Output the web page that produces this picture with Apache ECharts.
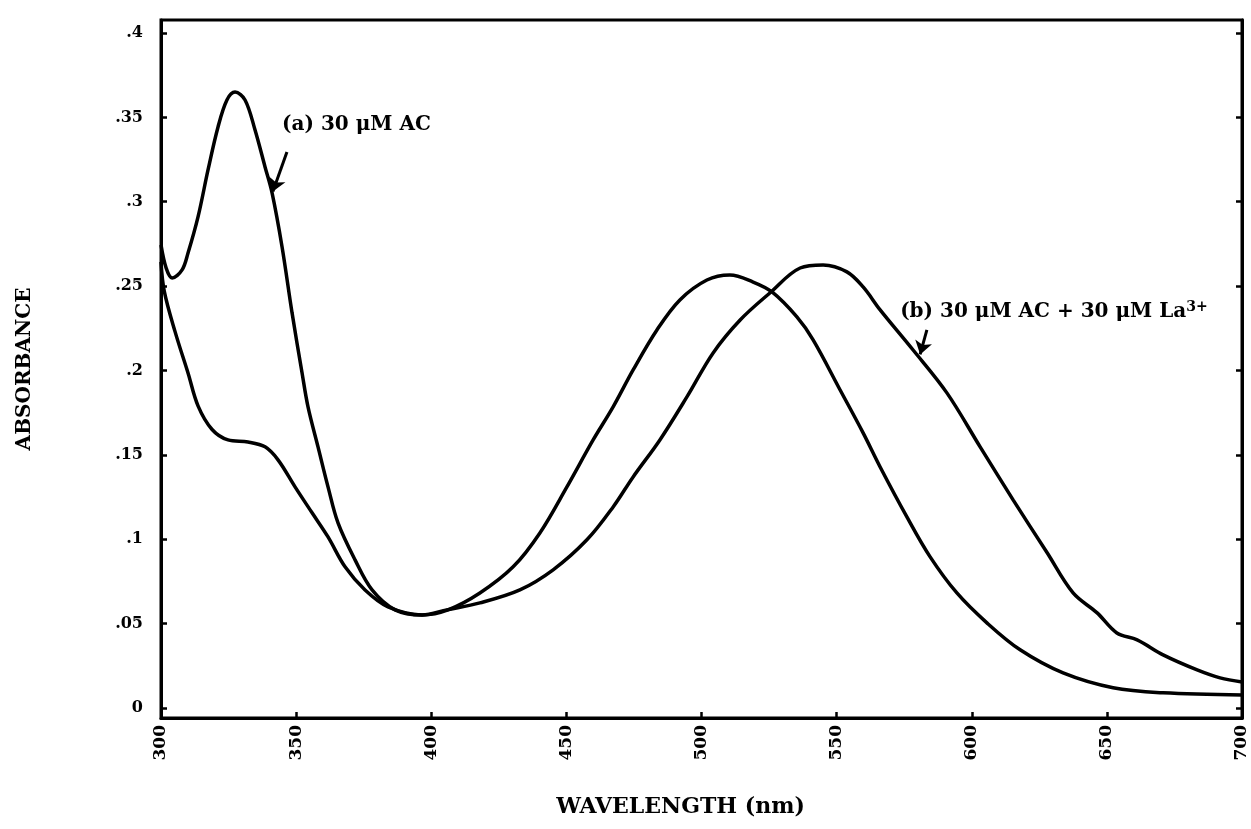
<!DOCTYPE html>
<html>
<head>
<meta charset="utf-8">
<title>Absorbance spectra</title>
<script src="https://cdn.jsdelivr.net/npm/echarts@6/dist/echarts.min.js"></script>
<style>
  html, body { margin: 0; padding: 0; background: #fff; }
  #chart { width: 1251px; height: 829px; }
</style>
</head>
<body>
<div id="chart"></div>
<script>
// Wavelength (nm) / absorbance pairs for each spectrum
const acWavelength = [300, 301.9, 304.1, 307.8, 310.0, 313.7, 317.4, 321.1, 324.4, 327.4, 331.1, 334.8, 338.5, 341.1, 344.8, 348.5, 352.2, 354.4, 358.1, 361.8, 365.5, 371.8, 378.1, 386.6, 396.6, 406.2, 418.0, 430.3, 440.2, 450.2, 459.9, 467.3, 474.7, 483.5, 492.0, 502.0, 510.5, 519.1, 526.1, 535.3, 541.3, 551.3, 559.8, 566.1, 576.0, 584.6, 594.5, 605.6, 617.9, 633.8, 652.3, 670.8, 700];
const acAbsorbance = [0.2744, 0.2607, 0.2548, 0.2596, 0.2696, 0.2910, 0.3188, 0.3443, 0.3603, 0.3650, 0.3603, 0.3425, 0.3206, 0.3052, 0.2732, 0.2341, 0.1985, 0.1784, 0.1547, 0.1310, 0.1096, 0.0877, 0.0699, 0.0581, 0.0551, 0.0581, 0.0681, 0.0836, 0.1037, 0.1310, 0.1588, 0.1784, 0.2003, 0.2240, 0.2418, 0.2536, 0.2566, 0.2524, 0.2465, 0.2317, 0.2181, 0.1884, 0.1630, 0.1428, 0.1132, 0.0895, 0.0681, 0.0504, 0.0344, 0.0207, 0.0119, 0.0089, 0.0077];

const laWavelength = [300, 301.2, 305.2, 310.0, 313.7, 318.9, 324.8, 332.2, 338.5, 343.3, 349.6, 355.9, 361.8, 368.1, 375.5, 384.0, 396.6, 405.8, 418.0, 432.8, 445.1, 457.6, 467.3, 474.7, 484.6, 494.6, 504.3, 514.3, 525.3, 536.5, 545.0, 553.8, 559.8, 566.1, 578.3, 590.8, 603.1, 615.3, 627.9, 637.5, 646.4, 653.7, 661.2, 670.8, 683.4, 691.9, 700];
const laAbsorbance = [0.2643, 0.2470, 0.2230, 0.1985, 0.1790, 0.1650, 0.1588, 0.1576, 0.1547, 0.1470, 0.1310, 0.1156, 0.1013, 0.0836, 0.0699, 0.0599, 0.0551, 0.0581, 0.0622, 0.0699, 0.0818, 0.0996, 0.1191, 0.1369, 0.1588, 0.1843, 0.2104, 0.2299, 0.2459, 0.2607, 0.2625, 0.2584, 0.2495, 0.2359, 0.2121, 0.1867, 0.1547, 0.1233, 0.0919, 0.0681, 0.0563, 0.0444, 0.0403, 0.0314, 0.0225, 0.0178, 0.0154];

// Tick values
const xTicks = [300, 350, 400, 450, 500, 550, 600, 650, 700];
const yTicks = [0, 0.05, 0.1, 0.15, 0.2, 0.25, 0.3, 0.35, 0.4];

// Curve labels and their pointer arrows (data coordinates)
const labelA = { text: '(a) 30 μM AC', at: [344.8, 0.3455] };
const arrowA = [[346.6, 0.3295], [341.4, 0.3060]];
const labelB = { text: '{t|(b) 30 μM AC + 30 μM La}{sup|3+}', at: [573.5, 0.2347] };
const arrowB = [[583.4, 0.2240], [580.9, 0.2095]];

const serif = 'DejaVu Serif';
const ink = '#000';

function pairs(xs, ys) {
  return xs.map((x, i) => [x, ys[i]]);
}

function yLabel(v) {
  if (v === 0) return '0';
  return String(v).replace(/^0\./, '.');
}

const chart = echarts.init(document.getElementById('chart'), null, { renderer: 'canvas' });

const lineStyle = { color: ink, width: 3.5 };
const textStyle = { color: ink, fontFamily: serif, fontWeight: 'bold', fontSize: 20 };

function arrowLine(seg) {
  return {
    silent: true,
    symbol: ['none', 'arrow'],
    symbolSize: 13,
    lineStyle: { color: ink, width: 3, type: 'solid' },
    label: { show: false },
    emphasis: { disabled: true },
    data: [[{ coord: seg[0] }, { coord: seg[1] }]]
  };
}

chart.setOption({
  backgroundColor: '#fff',
  animation: false,
  grid: {
    left: 161, right: 9, top: 20, bottom: 111,
    show: true, borderColor: ink, borderWidth: 3, backgroundColor: 'transparent'
  },
  xAxis: {
    type: 'value',
    min: 300, max: 700, interval: 50,
    name: 'WAVELENGTH (nm)',
    nameLocation: 'middle',
    nameGap: 78,
    nameTextStyle: { color: ink, fontFamily: serif, fontWeight: 'bold', fontSize: 22, padding: [0, 42, 0, 0] },
    axisLine: { show: true, onZero: false, lineStyle: { color: ink, width: 3 } },
    axisTick: { show: true, inside: true, length: 6, lineStyle: { color: ink, width: 2.5 }, customValues: xTicks },
    axisLabel: {
      customValues: xTicks,
      rotate: 90, margin: 7,
      color: ink, fontFamily: serif, fontWeight: 'bold', fontSize: 17
    },
    splitLine: { show: false }
  },
  yAxis: [{
    type: 'value',
    min: -0.006, max: 0.4077,
    name: 'ABSORBANCE',
    nameLocation: 'middle',
    nameGap: 126,
    nameRotate: 90,
    nameTextStyle: { color: ink, fontFamily: serif, fontWeight: 'bold', fontSize: 20 },
    axisLine: { show: true, onZero: false, lineStyle: { color: ink, width: 3 } },
    axisTick: { show: true, inside: true, length: 6, lineStyle: { color: ink, width: 2.5 }, customValues: yTicks },
    axisLabel: {
      customValues: yTicks,
      formatter: yLabel,
      margin: 18,
      color: ink, fontFamily: serif, fontWeight: 'bold', fontSize: 16
    },
    splitLine: { show: false }
  }, {
    type: 'value',
    position: 'right',
    min: -0.006, max: 0.4077,
    axisLine: { show: true, onZero: false, lineStyle: { color: ink, width: 3 } },
    axisTick: { show: true, inside: true, length: 6, lineStyle: { color: ink, width: 2.5 }, customValues: yTicks },
    axisLabel: { show: false },
    splitLine: { show: false }
  }],
  series: [{
    name: '(a) 30 μM AC',
    type: 'line',
    data: pairs(acWavelength, acAbsorbance),
    smooth: 0.35,
    showSymbol: false,
    lineStyle: lineStyle,
    itemStyle: { color: ink },
    markPoint: {
      symbol: 'circle', symbolSize: 0,
      data: [{ coord: labelA.at, value: 0 }],
      label: { show: true, position: 'right', distance: 0, formatter: labelA.text, ...textStyle }
    },
    markLine: arrowLine(arrowA)
  }, {
    name: '(b) 30 μM AC + 30 μM La3+',
    type: 'line',
    data: pairs(laWavelength, laAbsorbance),
    smooth: 0.35,
    showSymbol: false,
    lineStyle: lineStyle,
    itemStyle: { color: ink },
    markPoint: {
      symbol: 'circle', symbolSize: 0,
      data: [{ coord: labelB.at, value: 0 }],
      label: {
        show: true, position: 'right', distance: 0,
        formatter: labelB.text,
        rich: {
          t: { ...textStyle },
          sup: { color: ink, fontFamily: serif, fontWeight: 'bold', fontSize: 14, padding: [0, 0, 10, 0] }
        }
      }
    },
    markLine: arrowLine(arrowB)
  }]
});
</script>
</body>
</html>
